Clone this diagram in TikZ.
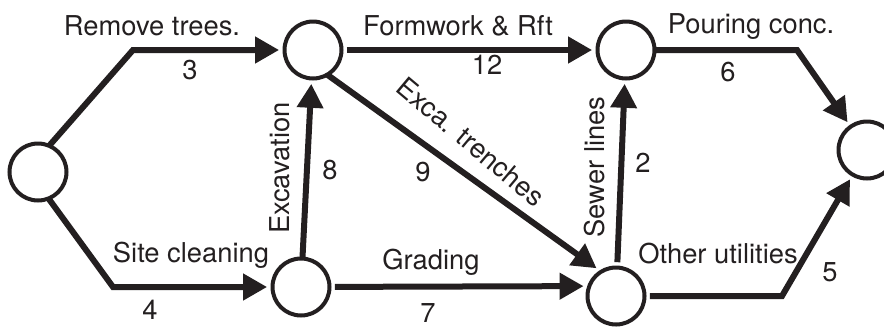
\documentclass[tikz,border=0pt]{standalone}
\usepackage{fontspec}
\setmainfont{TeX Gyre Heros}
\usetikzlibrary{arrows.meta}
\definecolor{ink}{HTML}{231F20}

\begin{document}
\begin{tikzpicture}[x=0.75pt, y=-0.75pt, font=\fontsize{20.5}{24}\selectfont,
  text only/.style={inner sep=1pt, align=center, text=ink},
  event/.style={draw=ink, circle, line width=3pt, minimum size=42.75pt, inner sep=0pt, outer sep=4pt},
  activity/.style={draw=ink, line width=4.5pt, -{Triangle[length=18pt, width=19pt]}},
  from rim/.style={shorten <=-4pt}]
\useasboundingbox (0,0) rectangle (884,326);
% events
\foreach \name/\x/\y in {
    start/38/172, top-l/313/50, bot-l/301/287,
    top-r/626/50, bot-r/616/296, finish/867/150} {
  \node[event] (\name) at (\x,\y) {};
}
\coordinate (bend-trees) at (133,50);
\coordinate (bend-site) at (113,287);
\coordinate (bend-pour) at (797,50);
\coordinate (bend-util) at (782,296);
% activities
\draw[activity, from rim] (start.64) -- (bend-trees) -- (top-l);
\draw[activity, from rim] (start.-66) -- (bend-site) -- (bot-l);
\draw[activity, from rim] (bot-l) -- (top-l);
\draw[activity, from rim] (top-l.-56) -- (bot-r.125);
\draw[activity] (top-l) -- (top-r);
\draw[activity] (bot-l) -- (bot-r.163);
\draw[activity] (bot-r) -- (top-r);
\draw[activity, from rim] (top-r) -- (bend-pour) -- (finish);
\draw[activity] (bot-r) -- (bend-util) -- (finish);
% names
\foreach \name/\x/\y/\angle/\caption in {
    trees/152/26/0/Remove trees.,
    site/191/255/0/Site cleaning,
    excav/280/168/90/Excavation,
    form/458/26/0/Formwork \& Rft,
    trench/471/142/-40/Exca. trenches,
    grade/431/262/0/Grading,
    sewer/595/167/90/Sewer lines,
    pour/751/27/0/Pouring conc.,
    util/718/254/0/Other utilities} {
  \node[text only, rotate=\angle] (name-\name) at (\x,\y) {\caption};
}
% durations
\foreach \name/\x/\y/\days in {
    trees/190/70/3, site/150/310/4, excav/330/170/8,
    trench/423/172/9, form/487/65/12, grade/428/313/7,
    sewer/643/163/2, pour/728/72/6, util/830/272/5} {
  \node[text only] (days-\name) at (\x,\y) {\days};
}
\end{tikzpicture}
\end{document}
